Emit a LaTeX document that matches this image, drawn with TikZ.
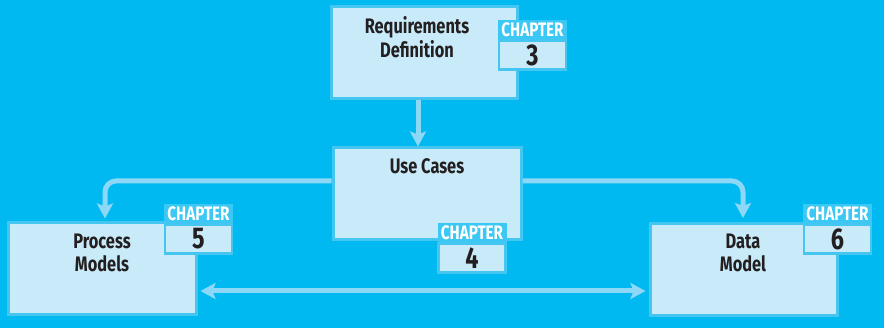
\documentclass[tikz,border=0pt]{standalone}
\usepackage{fontspec}
\setmainfont{Fira Sans}[FakeStretch=0.78]
\usetikzlibrary{arrows.meta,positioning}
\definecolor{bg}{HTML}{00B9F1}
\definecolor{boxfill}{HTML}{C8EAF9}
\definecolor{boxline}{HTML}{45C6F1}
\definecolor{arrcol}{HTML}{8ED8F7}
\definecolor{hdr}{HTML}{3CC8F4}
\definecolor{txt}{HTML}{231F20}
\tikzset{
  mainbox/.style={draw=boxline, line width=3pt, fill=boxfill, inner sep=0pt},
  boxtext/.style={font=\fontsize{21}{23.5}\selectfont\bfseries, text=txt, align=center, inner sep=0pt},
  chaphdr/.style={fill=hdr, text=white, inner sep=0pt, minimum width=69pt, minimum height=19pt,
    font=\fontsize{19.5}{19}\selectfont\bfseries},
  chapnum/.style={draw=boxline, line width=2.5pt, fill=boxfill, inner sep=0pt, minimum width=67pt, minimum height=29pt,
    font=\fontsize{30}{30}\selectfont\bfseries, text=txt},
  arr/.style={draw=arrcol, line width=5pt, -{Stealth[length=15pt,width=16pt,inset=3pt]}},
  darr/.style={draw=arrcol, line width=5pt, {Stealth[length=15pt,width=16pt,inset=3pt]}-{Stealth[length=15pt,width=16pt,inset=3pt]}}
}
\begin{document}
\begin{tikzpicture}[x=1pt,y=-1pt]
\fill[bg] (0,0) rectangle (884,328);
\useasboundingbox (0,0) rectangle (884,328);
% boxes
\node[mainbox, minimum width=186pt, minimum height=92pt] (req) at (424,53) {};
\node[mainbox, minimum width=188pt, minimum height=92pt] (uc) at (427,194) {};
\node[mainbox, minimum width=188pt, minimum height=92pt] (pm) at (102,269) {};
\node[mainbox, minimum width=187pt, minimum height=92pt] (dm) at (743.5,269.5) {};
% texts
\node[boxtext] (reqt) at (417,37) {Requirements\\Definition};
\node[boxtext] (uct) at (427,166) {Use Cases};
\node[boxtext] (pmt) at (102,253) {Process\\Models};
\node[boxtext] (dmt) at (743,253) {Data\\Model};
% chapter badges
\node[chapnum] (c3n) at (532.5,55) {3};
\node[chaphdr] (c3h) at (532.5,30) {CHAPTER};
\node[chapnum] (c4n) at (472,258) {4};
\node[chaphdr] (c4h) at (472,232.5) {CHAPTER};
\node[chapnum] (c5n) at (198.5,239) {5};
\node[chaphdr] (c5h) at (198.5,213.5) {CHAPTER};
\node[chapnum] (c6n) at (837.5,239) {6};
\node[chaphdr] (c6h) at (837.5,213.5) {CHAPTER};
% connectors
\draw[arr] ([xshift=-6pt]req.south) -- ([xshift=-6pt]req.south |- uc.north);
\draw[arr, rounded corners=11pt, shorten >=3pt] ([yshift=13pt]uc.west) -| ([xshift=3pt]pm.north);
\draw[arr, rounded corners=11pt, shorten >=4pt] ([yshift=13pt]uc.east) -| ([xshift=-0.5pt]dm.north);
\draw[darr, shorten <=3pt, shorten >=3pt] ([yshift=-22pt]pm.east) -- ([yshift=-22pt]pm.east -| dm.west);
\end{tikzpicture}
\end{document}
